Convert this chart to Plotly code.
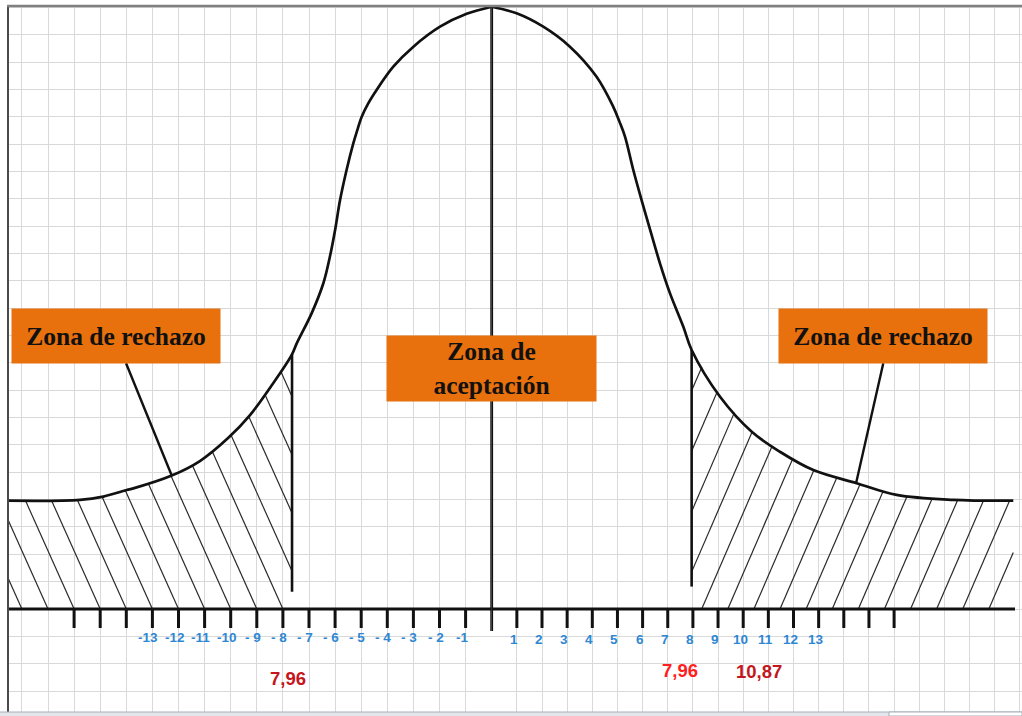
import numpy as np
import plotly.graph_objects as go

# ------------------------------------------------------------------
# Values.
# x = grid columns from the centre line, y = grid rows above the axis
# ------------------------------------------------------------------
curve_left_x = [-18.52, -15.77, -14.88, -13.98, -13.73, -12.26, -11.18, -10.10, -9.26,
                -8.47, -7.66, -7.47, -6.90, -6.45, -6.20, -6.00, -5.81, -5.56, -5.30,
                -5.15, -4.98, -4.73, -4.41, -3.77, -3.00, -1.98, -0.96, 0.0]
curve_left_y = [3.96, 3.99, 4.11, 4.35, 4.41, 4.88, 5.41, 6.25, 7.09,
                8.12, 9.29, 9.71, 10.81, 11.91, 12.88, 13.86, 14.95, 16.05, 17.03,
                17.51, 18.00, 18.49, 18.98, 19.83, 20.56, 21.29, 21.76, 22.02]
curve_right_x = [0.0, 0.99, 2.05, 3.11, 4.17, 4.83, 5.08, 5.30, 5.63, 5.96, 6.30, 6.69,
                 7.09, 7.62, 7.95, 9.08, 10.34, 11.46, 12.79, 14.51, 16.10, 18.35, 20.74]
curve_right_y = [22.02, 21.78, 21.29, 20.56, 19.46, 18.37, 17.82, 17.27, 16.05, 14.95,
                 13.86, 12.64, 11.54, 10.32, 9.47, 7.76, 6.48, 5.75, 5.08, 4.60, 4.17,
                 3.99, 3.96]

tick_left = list(range(-16, 0))
tick_right = list(range(1, 17))

label_left_vals = [-13, -12, -11, -10, -9, -8, -7, -6, -5, -4, -3, -2, -1]
label_left_text = ["-13", "-12", "-11", "-10", "- 9", "- 8", "- 7", "- 6", "- 5",
                   "- 4", "- 3", "- 2", "-1"]
label_right_vals = [1, 2, 3, 4, 5, 6, 7, 8, 9, 10, 11, 12, 13]
label_right_text = [str(v) for v in label_right_vals]

critical_vals = [-7.96, 7.96, 10.87]
critical_text = ["7,96", "7,96", "10,87"]
crit_line_x = [-7.65, 7.95]          # where the two vertical limit lines are drawn
crit_line_bottom = [0.63, 0.82]

zone_texts = ["Zona de rechazo", "Zona de<br>aceptación", "Zona de rechazo"]

# ------------------------------------------------------------------
# Layout constants (pixels)
# ------------------------------------------------------------------
W, H = 1022, 716
CX = 491.7            # centre line, px
AXY = 609.0           # axis line, px
SL, SR = 26.1, 25.15  # px per column, left / right half
ROW = 27.35           # px per row
d = CX / W

x_left_edge = -(CX - 8) / SL
x_right_edge = (1013.3 - CX) / SR
x_axis_end = (1015 - CX) / SR

BLACK = "#111111"
ORANGE = "#E8700D"
BLUE = "#2E87D3"

fig = go.Figure()


def line(x, y, axis, width, color=BLACK, shape="linear"):
    fig.add_trace(go.Scatter(x=x, y=y, mode="lines", xaxis=axis, yaxis="y",
                             line=dict(color=color, width=width, shape=shape),
                             hoverinfo="skip", showlegend=False))


# ---------------- hatching ----------------
HATCH = 0.47


def hatch(curve_x, curve_y, anchors, direction, lo, hi):
    hx, hy = [], []
    ys = np.linspace(0, 23, 9201)
    for xb in anchors:
        xs = xb + direction * HATCH * ys
        inside = (ys <= np.interp(xs, curve_x, curve_y)) & (xs >= lo) & (xs <= hi)
        idx = np.where(inside)[0]
        if len(idx) < 2:
            continue
        i0 = idx[0]
        i1 = i0
        while i1 + 1 < len(ys) and inside[i1 + 1]:
            i1 += 1
        hx += [xs[i0], xs[i1], None]
        hy += [ys[i0], ys[i1], None]
    return hx, hy


lx, ly = hatch(curve_left_x, curve_left_y, np.arange(-18, -3, 1.0), -1,
               x_left_edge, crit_line_x[0])
line(lx, ly, "x", 1.2, "#2a2a2a")
rx, ry = hatch(curve_right_x, curve_right_y, 8.35 + 1.038 * np.arange(-4, 12), 1,
               crit_line_x[1], x_right_edge)
line(rx, ry, "x2", 1.2, "#2a2a2a")

# ---------------- curve ----------------
line(curve_left_x, curve_left_y, "x", 2.7, shape="spline")
line(curve_right_x, curve_right_y, "x2", 2.7, shape="spline")

# ---------------- axis line & ticks ----------------
line([x_left_edge, 0], [0, 0], "x", 3.2)
line([0, x_axis_end], [0, 0], "x2", 3.2)
TB = -(628 - AXY) / ROW
tx, ty = [], []
for t in tick_left:
    tx += [t, t, None]
    ty += [0, TB, None]
line(tx, ty, "x", 3)
tx, ty = [], []
for t in tick_right:
    tx += [t, t, None]
    ty += [0, TB, None]
line(tx, ty, "x2", 3)

# centre line (drawn in both halves, each shows half its width)
peak = curve_left_y[-1]
cb = -(631 - AXY) / ROW
line([0, 0], [cb, peak], "x", 2.8)
line([0, 0], [cb, peak], "x2", 2.8)

# critical vertical lines
line([crit_line_x[0]] * 2, [crit_line_bottom[0], float(np.interp(crit_line_x[0], curve_left_x, curve_left_y))], "x", 2.6)
line([crit_line_x[1]] * 2, [crit_line_bottom[1], float(np.interp(crit_line_x[1], curve_right_x, curve_right_y))], "x2", 2.6)

# pointer lines from the labels to the curve
box_bottom = (AXY - 363.3) / ROW
pl = -12.26
pr = 14.49
line([-14.01, pl], [box_bottom, float(np.interp(pl, curve_left_x, curve_left_y))], "x", 2.4)
line([15.57, pr], [box_bottom, float(np.interp(pr, curve_right_x, curve_right_y))], "x2", 2.4)

# ---------------- annotations ----------------
ann = []
tick_font = dict(family="Liberation Sans, Arial", size=13.5, color=BLUE)
for v, t in zip(label_left_vals, label_left_text):
    ann.append(dict(x=v, y=-(637 - AXY) / ROW, xref="x", yref="y", text=f"<b>{t}</b>",
                    showarrow=False, xshift=-4, font=tick_font))
for v, t in zip(label_right_vals, label_right_text):
    ann.append(dict(x=v, y=-(639 - AXY) / ROW, xref="x2", yref="y", text=f"<b>{t}</b>",
                    showarrow=False, xshift=-3, font=tick_font))

crit_style = [("x", 4, -(678 - AXY) / ROW, "#C4161C"),
              ("x2", -12, -(670 - AXY) / ROW, "#FF1F1F"),
              ("x2", -6, -(671.5 - AXY) / ROW, "#C4161C")]
for v, t, (xr, xs, yy, col) in zip(critical_vals, critical_text, crit_style):
    ann.append(dict(x=v, y=yy, xref=xr, yref="y", text=f"<b>{t}</b>", showarrow=False,
                    xshift=xs, font=dict(family="Liberation Sans, Arial", size=18.5, color=col)))

box_font = dict(family="Liberation Serif, Times New Roman, serif", size=25.5, color="#111111")
ann.append(dict(x=-14.40, y=(AXY - 336.3) / ROW, xref="x", yref="y", text=f"<b>{zone_texts[0]}</b>",
                showarrow=False, bgcolor=ORANGE, width=208, height=54, borderpad=0,
                font=box_font))
ann.append(dict(x=0, y=(AXY - 368.5) / ROW, xref="x", yref="y", text=f"<b>{zone_texts[1]}</b>",
                showarrow=False, bgcolor=ORANGE, width=209, height=65, borderpad=0,
                font=box_font))
ann.append(dict(x=15.56, y=(AXY - 336.3) / ROW, xref="x2", yref="y", text=f"<b>{zone_texts[2]}</b>",
                showarrow=False, bgcolor=ORANGE, width=208, height=54, borderpad=0,
                font=box_font))

# ---------------- frame (sheet border / masks) ----------------
shapes = [
    dict(type="rect", xref="paper", yref="paper", x0=0, x1=7.5 / W, y0=0, y1=1,
         fillcolor="white", line=dict(width=0), layer="above"),
    dict(type="rect", xref="paper", yref="paper", x0=0, x1=1, y0=1 - 5 / H, y1=1,
         fillcolor="white", line=dict(width=0), layer="above"),
    dict(type="line", xref="paper", yref="paper", x0=8 / W, x1=8 / W, y0=1 - 712 / H, y1=1 - 5 / H,
         line=dict(color="#4a4a4a", width=2), layer="above"),
    dict(type="line", xref="paper", yref="paper", x0=7 / W, x1=1, y0=1 - 6 / H, y1=1 - 6 / H,
         line=dict(color="#808080", width=2.5), layer="above"),
    dict(type="rect", xref="paper", yref="paper", x0=0, x1=1, y0=0, y1=4 / H,
         fillcolor="#e3e6eb", line=dict(width=0), layer="above"),
    dict(type="line", xref="paper", yref="paper", x0=0, x1=1, y0=4 / H, y1=4 / H,
         line=dict(color="#a9b0ba", width=1), layer="above"),
    dict(type="rect", xref="paper", yref="paper", x0=889 / W, x1=1, y0=0, y1=4 / H,
         fillcolor="white", line=dict(color="#a9b0ba", width=1), layer="above"),
]

grid = dict(showgrid=True, gridcolor="#d9d9d9", gridwidth=1, dtick=1, tick0=0,
            showticklabels=False, zeroline=False, ticks="", showline=False, fixedrange=True)

fig.update_layout(
    width=W, height=H, margin=dict(l=0, r=0, t=0, b=0), autosize=False,
    paper_bgcolor="white", plot_bgcolor="rgba(0,0,0,0)", showlegend=False,
    xaxis=dict(domain=[0, d], range=[-CX / SL, 0], anchor="y", **grid),
    xaxis2=dict(domain=[d, 1], range=[0, (W - CX) / SR], anchor="y", **grid),
    yaxis=dict(domain=[0, 1], range=[-(H - AXY) / ROW, AXY / ROW], anchor="x", **grid),
    annotations=ann, shapes=shapes,
)

fig.write_html("out.html", config={"displayModeBar": False},
               post_script="document.body.style.margin='0';document.body.style.overflow='hidden';")
